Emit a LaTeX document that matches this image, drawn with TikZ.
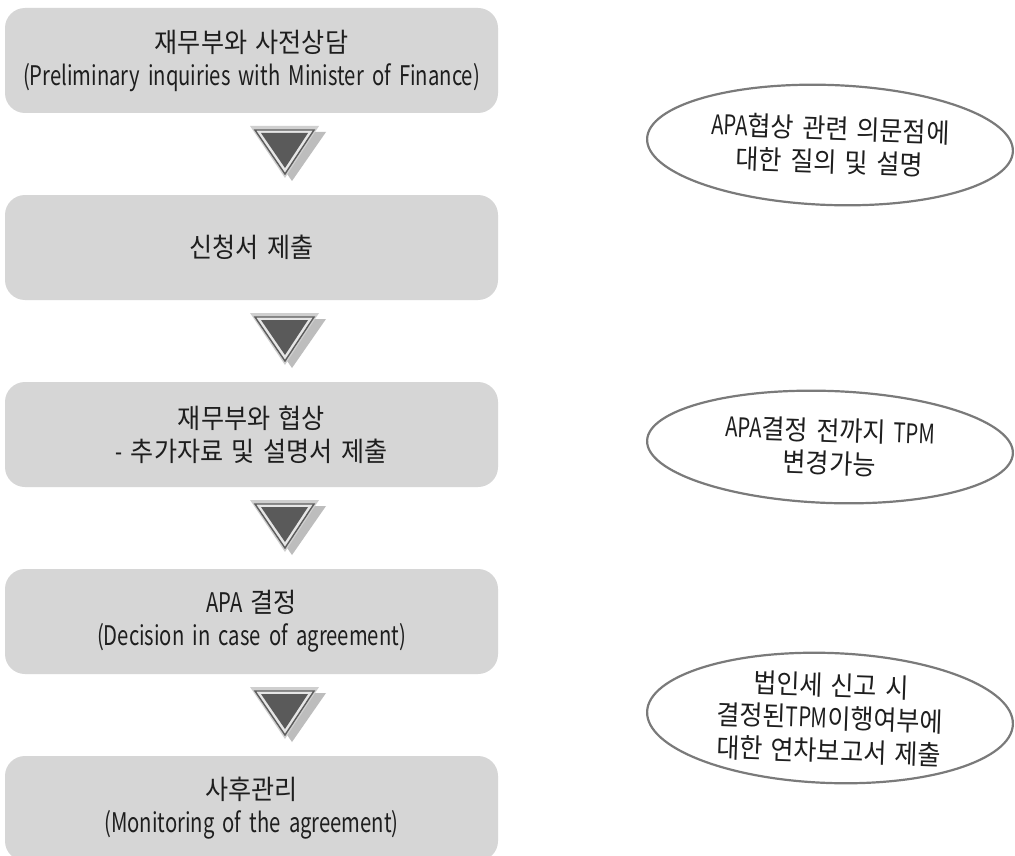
\documentclass[tikz,border=0pt]{standalone}
\usepackage{fontspec}
\setmainfont{Noto Sans CJK KR}[FakeStretch=0.75,WordSpace=1.8]
\newfontfamily\kr{Noto Sans CJK KR}[FakeStretch=0.93,WordSpace=1.5]
\usetikzlibrary{shapes.geometric,calc}
\definecolor{boxgray}{HTML}{D6D6D6}
\definecolor{txt}{HTML}{1E1E1E}
\definecolor{ellline}{HTML}{7A7A7A}
\definecolor{triout}{HTML}{CFCFCF}
\definecolor{triline}{HTML}{5C5C5C}
\definecolor{tribase}{HTML}{E6E6E6}
\definecolor{trifill}{HTML}{5A5A5A}
\definecolor{trishadow}{HTML}{BDBDBD}
\tikzset{
  stepbox/.style={fill=boxgray, rounded corners=20pt, minimum width=493pt, minimum height=105pt,
    inner sep=0pt, align=center, text=txt, font=\fontsize{27}{33}\selectfont},
  note/.style={ellipse, draw=ellline, line width=2.2pt, minimum width=366pt, fill=white,
    inner sep=0pt, align=center, text=txt, font=\fontsize{27}{33}\selectfont},
  downtri/.pic={
    \fill[trishadow] (-27,-22) -- (41,-22) -- (7,27) -- cycle;
    \fill[triout] (-35,-28) -- (34,-28) -- (0,24) -- cycle;
    \draw[triline, fill=tribase, line width=1.4pt, line join=miter] (-30,-24) -- (29,-24) -- (0,20) -- cycle;
    \fill[trifill] (-24,-21) -- (23,-21) -- (0,14) -- cycle;
  }
}
\begin{document}
\begin{tikzpicture}[x=1pt,y=-1pt]
\clip (0,0) rectangle (1015,856);
\fill[white] (0,0) rectangle (1015,856);

\node[stepbox] (b1) at (251.5,60.5) {{\kr 재무부와 사전상담}\\(Preliminary inquiries with Minister of Finance)};
\node[stepbox] (b2) at (251.5,247.5) {{\kr 신청서 제출}};
\node[stepbox] (b3) at (251.5,434.5) {{\kr 재무부와 협상}\\- {\kr 추가자료 및 설명서 제출}};
\node[stepbox] (b4) at (251.5,621.5) {APA {\kr 결정}\\(Decision in case of agreement)};
\node[stepbox] (b5) at (251.5,808.5) {{\kr 사후관리}\\(Monitoring of the agreement)};

\coordinate (a1) at ($(b1.south)!0.5!(b2.north)+(33.5,0)$);
\coordinate (a2) at ($(b2.south)!0.5!(b3.north)+(33.5,0)$);
\coordinate (a3) at ($(b3.south)!0.5!(b4.north)+(33.5,0)$);
\coordinate (a4) at ($(b4.south)!0.5!(b5.north)+(33.5,0)$);
\foreach \a in {a1,a2,a3,a4} \pic at (\a) {downtri};

\node[note, minimum height=120pt, rotate=-2] (e1) at (830,145) {APA{\kr 협상 관련 의문점에}\\{\kr 대한 질의 및 설명}};
\node[note, minimum height=112pt, rotate=-2] (e2) at (830,447) {APA{\kr 결정 전까지} TPM\\{\kr 변경가능}};
\node[note, minimum height=130pt, rotate=-2] (e3) at (830,718) {{\kr 법인세 신고 시}\\{\kr 결정된}TPM{\kr 이행여부에}\\{\kr 대한 연차보고서 제출}};
\end{tikzpicture}
\end{document}
